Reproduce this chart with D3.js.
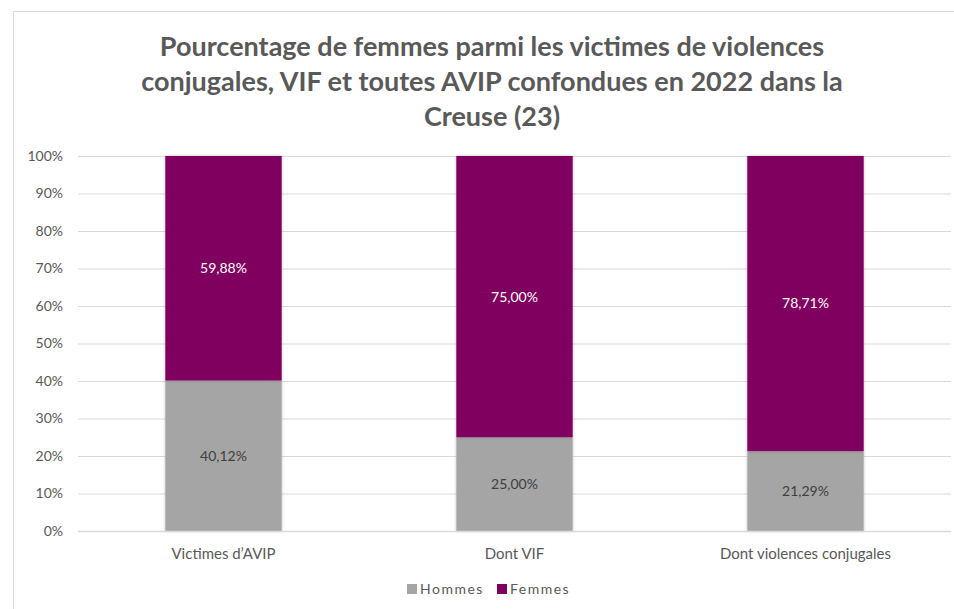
<!DOCTYPE html>
<html>
<head>
<meta charset="utf-8">
<script src="https://cdn.jsdelivr.net/npm/d3@7"></script>
<style>
  body { margin: 0; background: #fff; }
  svg { display: block; font-family: Lato, "Open Sans", sans-serif; }
</style>
</head>
<body>
<svg id="chart"></svg>
<script>
// data
var categories = ['Victimes d\u2019AVIP', 'Dont VIF', 'Dont violences conjugales']
var hommes = [40.12, 25.00, 21.29]
var femmes = [59.88, 75.00, 78.71]
var seriesNames = ['Hommes', 'Femmes']
var seriesColors = ['#a5a5a5', '#800060']
var yTicks = [0, 10, 20, 30, 40, 50, 60, 70, 80, 90, 100]
var titleLines = [
  'Pourcentage de femmes parmi les victimes de violences',
  'conjugales, VIF et toutes AVIP confondues en 2022 dans la',
  'Creuse (23)'
]

var width = 954
var height = 609
var margin = { top: 156, right: 3, bottom: 78, left: 78 }

var rows = categories.map((c, i) => ({ cat: c, Hommes: hommes[i], Femmes: femmes[i] }))
var stacked = d3.stack().keys(seriesNames)(rows)

var svg = d3.select('#chart').attr('width', width).attr('height', height)

// outer frame
svg
  .append('rect')
  .attr('x', 13.5)
  .attr('y', 11.5)
  .attr('width', width)
  .attr('height', height)
  .attr('fill', 'none')
  .attr('stroke', '#d9d9d9')

var defs = svg.append('defs')
var shadow = defs.append('filter').attr('id', 'shadow').attr('x', '-10%').attr('y', '-5%').attr('width', '120%').attr('height', '110%')
shadow.append('feDropShadow').attr('dx', 0).attr('dy', 0).attr('stdDeviation', 1.5).attr('flood-color', '#000').attr('flood-opacity', 0.25)

var x = d3
  .scaleBand()
  .domain(categories)
  .range([margin.left, width - margin.right])
  .paddingInner(0.6)
  .paddingOuter(0.3)

var y = d3
  .scaleLinear()
  .domain([0, 100])
  .range([height - margin.bottom, margin.top])

// title
svg
  .append('g')
  .selectAll('text')
  .data(titleLines)
  .enter()
  .append('text')
  .attr('x', 492)
  .attr('y', (d, i) => 56 + i * 35)
  .attr('text-anchor', 'middle')
  .attr('font-size', 27)
  .attr('font-weight', 'bold')
  .attr('fill', '#595959')
  .text(d => d)

// y axis with gridlines
svg
  .append('g')
  .attr('transform', `translate(${margin.left},0)`)
  .call(
    d3
      .axisLeft(y)
      .tickValues(yTicks)
      .tickFormat(d => d + '%')
      .tickSize(0)
      .tickPadding(15)
  )
  .call(g => g.select('.domain').remove())
  .call(g =>
    g
      .selectAll('.tick line')
      .attr('x2', width - margin.left - margin.right)
      .attr('stroke', '#d9d9d9')
  )
  .call(g =>
    g
      .selectAll('.tick text')
      .attr('font-size', 14)
      .attr('font-family', 'Lato, sans-serif')
      .attr('fill', '#595959')
  )

// bars
var layer = svg
  .append('g')
  .selectAll('g')
  .data(stacked)
  .enter()
  .append('g')
  .attr('fill', (d, i) => seriesColors[i])

layer
  .selectAll('rect')
  .data(d => d)
  .enter()
  .append('rect')
  .attr('x', d => x(d.data.cat))
  .attr('y', d => y(d[1]))
  .attr('width', x.bandwidth())
  .attr('height', d => y(d[0]) - y(d[1]))
  .attr('filter', 'url(#shadow)')

// data labels
layer
  .selectAll('text')
  .data(d => d.map(v => ({ v: v, key: d.key })))
  .enter()
  .append('text')
  .attr('x', d => x(d.v.data.cat) + x.bandwidth() / 2)
  .attr('y', d => y((d.v[0] + d.v[1]) / 2))
  .attr('dy', '0.35em')
  .attr('text-anchor', 'middle')
  .attr('font-size', 14)
  .attr('fill', d => (d.key === 'Femmes' ? '#ffffff' : '#404040'))
  .text(d => d3.format('.2f')(d.v.data[d.key]).replace('.', ',') + '%')

// baseline
svg
  .append('line')
  .attr('x1', margin.left)
  .attr('x2', width - margin.right)
  .attr('y1', y(0) + 0.5)
  .attr('y2', y(0) + 0.5)
  .attr('stroke', '#d9d9d9')
  .attr('stroke-width', 1.5)

// x axis labels
svg
  .append('g')
  .attr('transform', `translate(0,${y(0)})`)
  .call(d3.axisBottom(x).tickSize(0).tickPadding(17))
  .call(g => g.select('.domain').remove())
  .call(g =>
    g
      .selectAll('.tick text')
      .attr('font-size', 15)
      .attr('font-family', 'Lato, sans-serif')
      .attr('fill', '#595959')
  )

// legend
var legend = svg
  .append('g')
  .attr('transform', 'translate(407,589)')
  .selectAll('g')
  .data(seriesNames)
  .enter()
  .append('g')
  .attr('transform', (d, i) => `translate(${i * 90},0)`)

legend
  .append('rect')
  .attr('x', 0)
  .attr('y', -5)
  .attr('width', 10)
  .attr('height', 10)
  .attr('fill', (d, i) => seriesColors[i])

legend
  .append('text')
  .attr('x', 13)
  .attr('y', 0)
  .attr('dy', '0.35em')
  .attr('font-size', 14)
  .attr('letter-spacing', 1.5)
  .attr('fill', '#595959')
  .text(d => d)
</script>
</body>
</html>
